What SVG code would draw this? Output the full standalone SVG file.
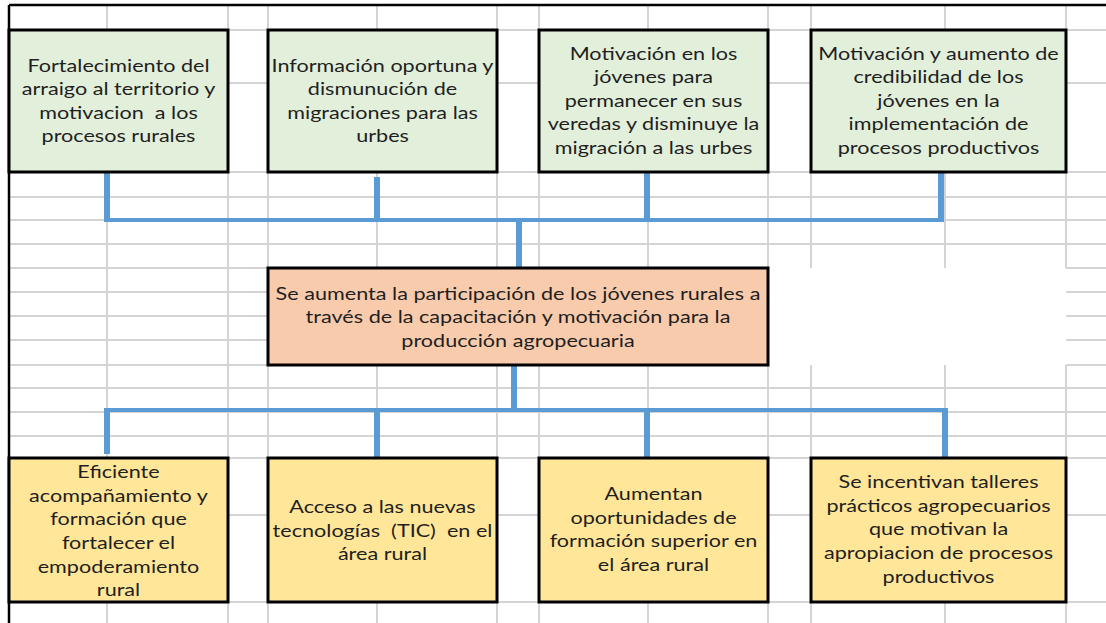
<svg xmlns="http://www.w3.org/2000/svg" width="1106" height="623" viewBox="0 0 1106 623" xml:space="preserve">
<style>
.grid{fill:none;stroke:#d4d4d4;stroke-width:2}
.frame{fill:none;stroke:#000;stroke-width:2.5}
.box{stroke:#000;stroke-width:3}
.g{fill:#e2efda}
.o{fill:#f8cbad}
.y{fill:#ffe699}
.conn{fill:none;stroke:#5b9bd5;stroke-linecap:butt}
.v{stroke-width:6}
.h{stroke-width:4}
text{font-family:Lato,"Open Sans","Liberation Sans",sans-serif;font-size:18px;fill:#1f1f1f;text-anchor:middle;white-space:pre}
</style>
<rect x="0" y="0" width="1106" height="623" fill="#fff"/>
<g id="grid">
<path class="grid" d="M107 6V623M228 6V623M268 6V623M377 6V623M497 6V623M539 6V623M648 6V623M768 6V623M811 6V268M811 365V623M945 6V268M945 365V623M1066 6V268M1066 365V623"/>
<path class="grid" d="M9 30H1106M9 83H1106M9 172H1106M9 197H1106M9 220H1106M9 244H1106M9 388H1106M9 412H1106M9 436H1106M9 458H1106M9 515H1106M9 602H1106M9 268H768M1066 268H1106M9 292H768M1066 292H1106M9 316H768M1066 316H1106M9 340H768M1066 340H1106M9 365H768M1066 365H1106"/>
<path class="frame" d="M9 5H1106M9 5V623"/>
</g>
<g id="connectors">
<path class="conn v" d="M107 172V222M377 177V222M647 172V222M941 172V222M519 220V267"/>
<path class="conn h" d="M104 220H944"/>
<path class="conn v" d="M514 366V412M107 408V454M377 408V458M647 408V458M945 408V458"/>
<path class="conn h" d="M104 410H948"/>
</g>
<g id="n1">
<rect class="box g" x="9" y="30" width="219" height="142"/>
<text transform="translate(118.5 0) scale(1.2 1)"><tspan x="0" y="72">Fortalecimiento del</tspan><tspan x="0" y="95.4">arraigo al territorio y</tspan><tspan x="0" y="118.8">motivacion  a los</tspan><tspan x="0" y="142.2">procesos rurales</tspan></text>
</g>
<g id="n2">
<rect class="box g" x="268" y="30" width="229" height="142"/>
<text transform="translate(382.5 0) scale(1.2 1)"><tspan x="0" y="72">Información oportuna y</tspan><tspan x="0" y="95.4">dismunución de</tspan><tspan x="0" y="118.8">migraciones para las</tspan><tspan x="0" y="142.2">urbes</tspan></text>
</g>
<g id="n3">
<rect class="box g" x="539" y="30" width="229" height="142"/>
<text transform="translate(653.5 0) scale(1.2 1)"><tspan x="0" y="60">Motivación en los</tspan><tspan x="0" y="83.5">jóvenes para</tspan><tspan x="0" y="107">permanecer en sus</tspan><tspan x="0" y="130.5">veredas y disminuye la</tspan><tspan x="0" y="154">migración a las urbes</tspan></text>
</g>
<g id="n4">
<rect class="box g" x="811" y="30" width="255" height="142"/>
<text transform="translate(938.5 0) scale(1.2 1)"><tspan x="0" y="60">Motivación y aumento de</tspan><tspan x="0" y="83.5">credibilidad de los</tspan><tspan x="0" y="107">jóvenes en la</tspan><tspan x="0" y="130.5">implementación de</tspan><tspan x="0" y="154">procesos productivos</tspan></text>
</g>
<g id="center">
<rect class="box o" x="268" y="268" width="500" height="97"/>
<text transform="translate(518 0) scale(1.2 1)"><tspan x="0" y="300">Se aumenta la participación de los jóvenes rurales a</tspan><tspan x="0" y="323.4">través de la capacitación y motivación para la</tspan><tspan x="0" y="346.8">producción agropecuaria</tspan></text>
</g>
<g id="b1">
<rect class="box y" x="9" y="458" width="219" height="144"/>
<text transform="translate(118.5 0) scale(1.2 1)"><tspan x="0" y="478">Eficiente</tspan><tspan x="0" y="501.7">acompañamiento y</tspan><tspan x="0" y="525.4">formación que</tspan><tspan x="0" y="549.1">fortalecer el</tspan><tspan x="0" y="572.8">empoderamiento</tspan><tspan x="0" y="596.5">rural</tspan></text>
</g>
<g id="b2">
<rect class="box y" x="268" y="458" width="229" height="144"/>
<text transform="translate(382.5 0) scale(1.2 1)"><tspan x="0" y="513">Acceso a las nuevas</tspan><tspan x="0" y="536.7">tecnologías  (TIC)  en el</tspan><tspan x="0" y="560.4">área rural</tspan></text>
</g>
<g id="b3">
<rect class="box y" x="539" y="458" width="229" height="144"/>
<text transform="translate(653.5 0) scale(1.2 1)"><tspan x="0" y="500">Aumentan</tspan><tspan x="0" y="523.7">oportunidades de</tspan><tspan x="0" y="547.4">formación superior en</tspan><tspan x="0" y="571.1">el área rural</tspan></text>
</g>
<g id="b4">
<rect class="box y" x="811" y="458" width="255" height="144"/>
<text transform="translate(938.5 0) scale(1.2 1)"><tspan x="0" y="488">Se incentivan talleres</tspan><tspan x="0" y="511.7">prácticos agropecuarios</tspan><tspan x="0" y="535.4">que motivan la</tspan><tspan x="0" y="559.1">apropiacion de procesos</tspan><tspan x="0" y="582.8">productivos</tspan></text>
</g>
</svg>
